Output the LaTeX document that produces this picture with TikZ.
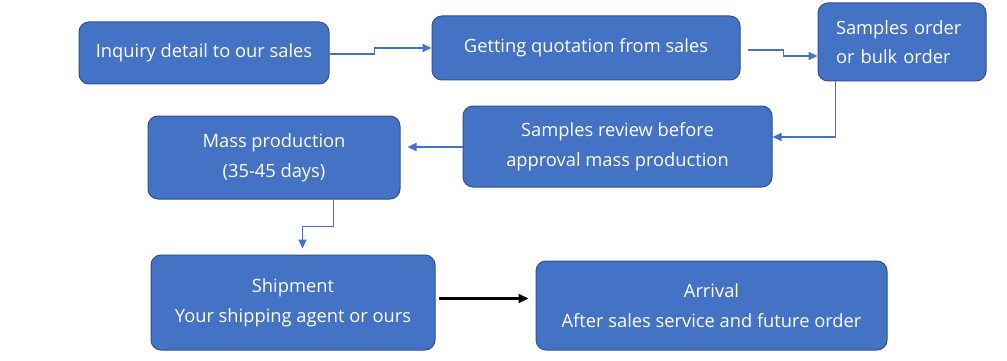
\documentclass[tikz,border=0pt]{standalone}
\usepackage{fontspec}
\setmainfont{Open Sans}
\usepackage{tikz}
\usetikzlibrary{arrows.meta,positioning,calc}
\definecolor{boxblue}{HTML}{4472C4}
\definecolor{boxedge}{HTML}{2F528F}

\begin{document}
\begin{tikzpicture}[x=1pt,y=-1pt,
  stage/.style={draw=boxedge,line width=1pt,fill=boxblue,rounded corners=10pt,
    text=white,inner sep=0pt,align=center,font=\fontsize{18.3}{29.5}\selectfont},
  flow/.style={draw=boxblue,line width=1.8pt,-{Triangle[length=9pt,width=8pt]}}]
\useasboundingbox (0,0) rectangle (1007,361);
\node[stage,minimum width=250pt,minimum height=62pt] (inq) at (204,53) {Inquiry detail to our sales};
\node[stage,minimum width=308pt,minimum height=64pt] (quo) at (586,48) {Getting quotation from sales};
\node[stage,minimum height=78pt,text width=132pt,inner xsep=18pt,align=left] (ord) at (902,42) {Samples order\\or bulk order};
\node[stage,minimum width=309pt,minimum height=81pt] (rev) at (617.5,146.5) {Samples review before\\approval mass production};
\node[stage,minimum width=252pt,minimum height=83pt] (mass) at (274,157.5) {Mass production\\(35-45 days)};
\node[stage,minimum width=284pt,minimum height=95pt] (ship) at (293,302.5) {Shipment\\Your shipping agent or ours};
\node[stage,minimum width=351pt,minimum height=89pt] (arr) at (711.5,305.5) {Arrival\\After sales service and future order};
\draw[flow] ([yshift=-1pt]inq.east) -- ++(45,0) |- (quo.west);
\draw[flow] ([xshift=7pt,yshift=-2pt]quo.east) -- ++(36,0) |- ([yshift=-14pt]ord.west);
\draw[flow] ([xshift=18pt]ord.south west) |- ([yshift=9.5pt]rev.east);
\draw[flow,shorten >=7pt] ([yshift=-0.5pt]rev.west) -- ([yshift=-0.5pt]rev.west -| mass.east);
\draw[flow,shorten >=6pt] ([xshift=186pt]mass.south west) -- ++(0,27) -| ([xshift=152pt]ship.north west);
\draw[black,line width=2.2pt,-{Triangle[length=10pt,width=9pt]},shorten <=3pt,shorten >=7pt]
  ([yshift=4pt]ship.east) -- ([yshift=4pt]ship.east -| arr.west);
\end{tikzpicture}
\end{document}
